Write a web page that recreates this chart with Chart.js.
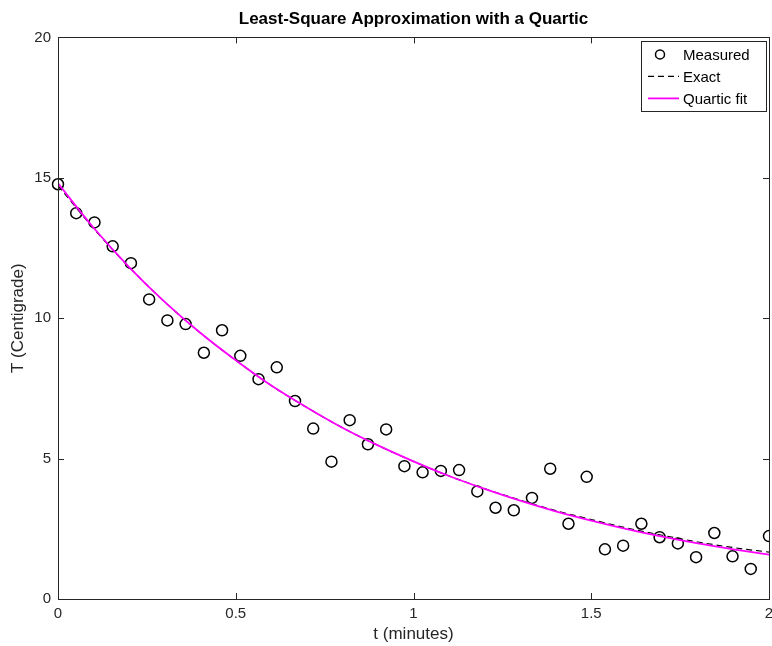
<!DOCTYPE html>
<html>
<head>
<meta charset="utf-8">
<script src="https://cdn.jsdelivr.net/npm/chart.js@4.4.1/dist/chart.umd.min.js"></script>
<style>
    html, body { margin: 0; padding: 0; background: #fff; }
    canvas { display: block; }
</style>
</head>
<body>
<canvas id="quarticChart" width="772" height="646"></canvas>
<script>
const tMeasured = [0, 0.0513, 0.1026, 0.1538, 0.2051, 0.2564, 0.3077, 0.3590, 0.4103, 0.4615,
    0.5128, 0.5641, 0.6154, 0.6667, 0.7179, 0.7692, 0.8205, 0.8718, 0.9231, 0.9744,
    1.0256, 1.0769, 1.1282, 1.1795, 1.2308, 1.2821, 1.3333, 1.3846, 1.4359, 1.4872,
    1.5385, 1.5897, 1.6410, 1.6923, 1.7436, 1.7949, 1.8462, 1.8974, 1.9487, 2.0];
const tempMeasured = [14.77, 13.74, 13.41, 12.56, 11.96, 10.67, 9.92, 9.79, 8.77, 9.57,
    8.66, 7.83, 8.25, 7.05, 6.07, 4.89, 6.37, 5.51, 6.04, 4.73,
    4.51, 4.56, 4.59, 3.83, 3.25, 3.16, 3.60, 4.64, 2.68, 4.35,
    1.77, 1.90, 2.68, 2.20, 1.98, 1.49, 2.35, 1.52, 1.07, 2.24];

// the two curves, read at every 0.1 minute
const tCurve = [0, 0.1, 0.2, 0.3, 0.4, 0.5, 0.6, 0.7, 0.8, 0.9, 1.0,
    1.1, 1.2, 1.3, 1.4, 1.5, 1.6, 1.7, 1.8, 1.9, 2.0];
const tempExact = [14.72, 13.20, 11.82, 10.58, 9.48, 8.50, 7.60, 6.82, 6.10, 5.47, 4.90,
    4.38, 3.93, 3.52, 3.15, 2.83, 2.53, 2.27, 2.03, 1.83, 1.67];
const tempQuartic = [14.80, 13.22, 11.82, 10.58, 9.48, 8.50, 7.60, 6.82, 6.10, 5.47, 4.90,
    4.38, 3.92, 3.50, 3.12, 2.79, 2.49, 2.22, 1.98, 1.77, 1.58];

const xTicks = [0, 0.5, 1, 1.5, 2];
const yTicks = [0, 5, 10, 15, 20];

const axisColor = '#262626';
const fontFamily = '"Liberation Sans", Arial, Helvetica, sans-serif';

function toPoints(xs, ys) {
    return xs.map(function(x, i) { return { x: x, y: ys[i] }; });
}

// box round the plot with inward ticks on all four sides
const boxPlugin = {
    id: 'boxPlugin',
    afterDraw: function(chart) {
        const ctx = chart.ctx;
        const a = chart.chartArea;
        const xs = chart.scales.x;
        const ys = chart.scales.y;
        const tl = 6;
        ctx.save();
        ctx.strokeStyle = axisColor;
        ctx.lineWidth = 1;
        ctx.strokeRect(Math.round(a.left) + 0.5, Math.round(a.top) + 0.5,
            Math.round(a.right - a.left), Math.round(a.bottom - a.top));
        ctx.beginPath();
        xTicks.slice(1, -1).forEach(function(v) {
            const px = Math.round(xs.getPixelForValue(v)) + 0.5;
            ctx.moveTo(px, a.bottom); ctx.lineTo(px, a.bottom - tl);
            ctx.moveTo(px, a.top); ctx.lineTo(px, a.top + tl);
        });
        yTicks.slice(1, -1).forEach(function(v) {
            const py = Math.round(ys.getPixelForValue(v)) + 0.5;
            ctx.moveTo(a.left, py); ctx.lineTo(a.left + tl, py);
            ctx.moveTo(a.right, py); ctx.lineTo(a.right - tl, py);
        });
        ctx.stroke();
        ctx.restore();
    }
};

// legend drawn inside the top right corner, like the original
const innerLegend = {
    id: 'innerLegend',
    afterDraw: function(chart) {
        const ctx = chart.ctx;
        const a = chart.chartArea;
        const w = 125, h = 70;
        const left = a.right - w - 3;
        const top = a.top + 4;
        ctx.save();
        ctx.fillStyle = '#fff';
        ctx.fillRect(left, top, w, h);
        ctx.strokeStyle = axisColor;
        ctx.lineWidth = 1;
        ctx.strokeRect(Math.round(left) + 0.5, Math.round(top) + 0.5, w, h);
        ctx.font = '15px ' + fontFamily;
        ctx.textBaseline = 'middle';
        ctx.textAlign = 'left';
        chart.data.datasets.forEach(function(ds, i) {
            const y = top + 13 + i * 22;
            ctx.strokeStyle = ds.borderColor;
            ctx.lineWidth = ds.borderWidth;
            ctx.setLineDash(ds.borderDash || []);
            ctx.beginPath();
            if (ds.showLine === false) {
                ctx.arc(left + 19, y, 4.5, 0, Math.PI * 2);
            } else {
                ctx.moveTo(left + 7, y);
                ctx.lineTo(left + 38, y);
            }
            ctx.stroke();
            ctx.setLineDash([]);
            ctx.fillStyle = '#000';
            ctx.fillText(ds.label, left + 42, y + 1);
        });
        ctx.restore();
    }
};

document.addEventListener('DOMContentLoaded', function() {
    const ctx = document.getElementById('quarticChart').getContext('2d');
    new Chart(ctx, {
        type: 'scatter',
        data: {
            datasets: [{
                label: 'Measured',
                data: toPoints(tMeasured, tempMeasured),
                showLine: false,
                pointStyle: 'circle',
                pointRadius: 5.5,
                pointHoverRadius: 5.5,
                borderColor: '#000',
                backgroundColor: 'rgba(0,0,0,0)',
                borderWidth: 1.5,
                order: 3,
                clip: { left: 10, top: 10, right: 0, bottom: 10 }
            }, {
                label: 'Exact',
                data: toPoints(tCurve, tempExact),
                showLine: true,
                pointRadius: 0,
                borderColor: '#000',
                borderWidth: 1.2,
                borderDash: [6, 4],
                cubicInterpolationMode: 'monotone',
                order: 2
            }, {
                label: 'Quartic fit',
                data: toPoints(tCurve, tempQuartic),
                showLine: true,
                pointRadius: 0,
                borderColor: '#ff00ff',
                borderWidth: 1.8,
                cubicInterpolationMode: 'monotone',
                order: 1
            }]
        },
        options: {
            responsive: false,
            animation: false,
            layout: {
                autoPadding: false,
                padding: { top: 0, right: 3, bottom: 0, left: 0 }
            },
            plugins: {
                legend: { display: false },
                tooltip: { enabled: false },
                title: {
                    display: true,
                    text: 'Least-Square Approximation with a Quartic',
                    fullSize: false,
                    color: '#000',
                    font: { family: fontFamily, size: 17, weight: 'bold', lineHeight: 1.2 },
                    padding: { top: 9, bottom: 8 }
                }
            },
            scales: {
                x: {
                    type: 'linear',
                    min: 0,
                    max: 2,
                    afterBuildTicks: function(scale) {
                        scale.ticks = xTicks.map(function(v) { return { value: v }; });
                    },
                    afterFit: function(scale) {
                        scale.height = 47;
                        scale.paddingLeft = 0;
                        scale.paddingRight = 0;
                    },
                    grid: { display: false, tickLength: 0 },
                    border: { display: false },
                    ticks: {
                        color: axisColor,
                        padding: 6,
                        maxRotation: 0,
                        font: { family: fontFamily, size: 15 },
                        callback: function(v) { return String(v); }
                    },
                    title: {
                        display: true,
                        text: 't (minutes)',
                        color: axisColor,
                        font: { family: fontFamily, size: 17 },
                        padding: { top: 0, bottom: 1 }
                    }
                },
                y: {
                    type: 'linear',
                    min: 0,
                    max: 20,
                    afterBuildTicks: function(scale) {
                        scale.ticks = yTicks.map(function(v) { return { value: v }; });
                    },
                    afterFit: function(scale) {
                        scale.width = 58;
                        scale.paddingTop = 0;
                        scale.paddingBottom = 0;
                    },
                    grid: { display: false, tickLength: 0 },
                    border: { display: false },
                    ticks: {
                        color: axisColor,
                        padding: 7,
                        font: { family: fontFamily, size: 15 },
                        callback: function(v) { return String(v); }
                    },
                    title: {
                        display: true,
                        text: 'T (Centigrade)',
                        color: axisColor,
                        font: { family: fontFamily, size: 17 },
                        padding: { top: 8, bottom: 0 }
                    }
                }
            }
        },
        plugins: [boxPlugin, innerLegend]
    });
});
</script>
</body>
</html>
